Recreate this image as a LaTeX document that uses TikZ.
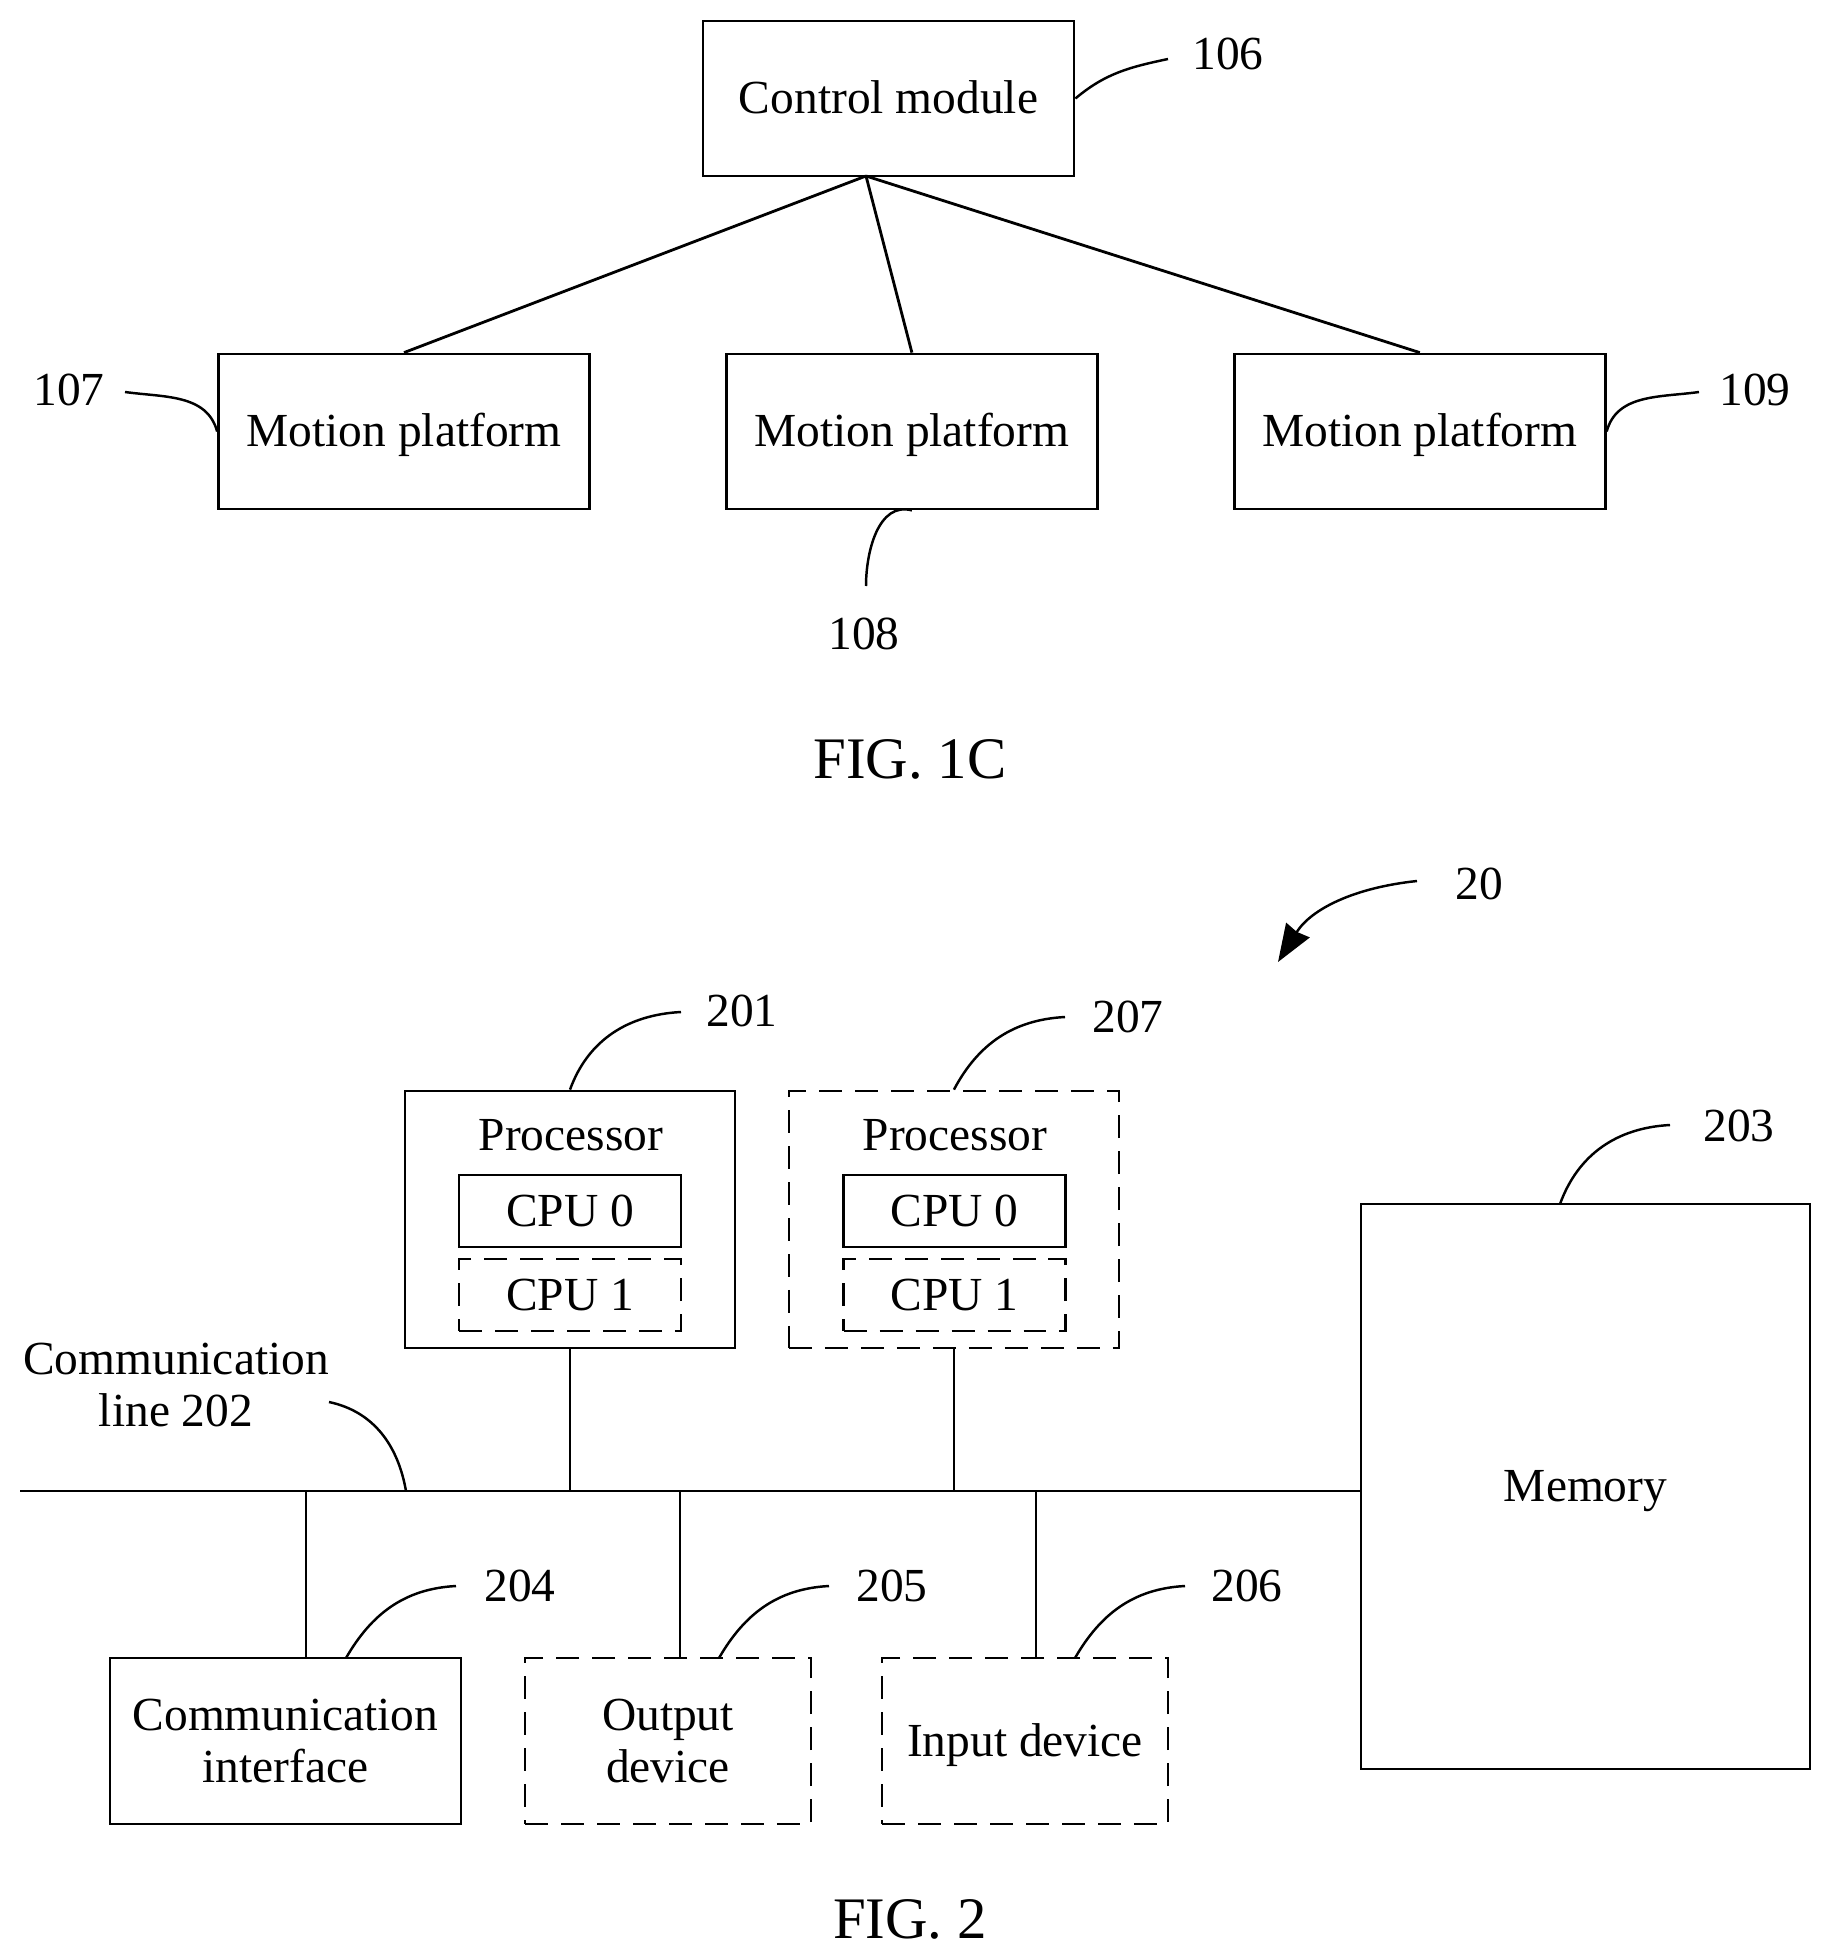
\documentclass[tikz,border=0pt]{standalone}
\usepackage{fontspec}
\setmainfont{Liberation Serif}
\usetikzlibrary{arrows.meta}

\begin{document}
\begin{tikzpicture}[x=0.02cm,y=-0.02cm,line width=1.6pt,node distance=10.16cm,
  every node/.style={font=\fontsize{27}{29.5}\selectfont,align=center},
  main box/.style={draw,inner sep=0pt,minimum width=#1},
  main box/.default=7.42cm,
  dash box/.style={main box=#1,dash pattern=on 0.46cm off 0.26cm},
  one line/.style={text height=17.4pt,text depth=0pt},
  label/.style={inner sep=0pt},
  lead/.style={line width=1.4pt}]
  \useasboundingbox (0,0) rectangle (1830,1959);

  % FIG. 1C
  \node[main box,one line,minimum height=3.1cm] (ctrl) at (888.5,98.5) {Control module};
  \node[main box,one line,minimum height=3.1cm] (m1) at (404,431.5) {Motion platform};
  \node[main box,one line,minimum height=3.1cm] (m2) [right of=m1] {Motion platform};
  \node[main box,one line,minimum height=3.1cm] (m3) [right of=m2] {Motion platform};
  \coordinate (apex) at (866,176);

  \draw (apex) -- (m1.north);
  \draw (apex) -- (m2.north);
  \draw (apex) -- (m3.north);

  \node[label] (l106) at (1228,54) {106};
  \node[label] (l107) at (69,390) {107};
  \node[label] (l108) at (864,634) {108};
  \node[label] (l109) at (1755,390) {109};
  \coordinate (e106) at (1168,59);
  \coordinate (e107) at (125,392);
  \coordinate (e108) at (866,586);
  \coordinate (e109) at (1699,392);
  \draw[lead] (ctrl.east) to[out=40,in=192] (e106);
  \draw[lead] (m1.west) to[out=105,in=-8] (e107);
  \draw[lead] (m2.south) to[out=165,in=90] (e108);
  \draw[lead] (m3.east) to[out=75,in=188] (e109);

  \node[font=\fontsize{33.5}{36}\selectfont] (fig1) at (910,759) {FIG. 1C};

  % FIG. 2
  \node[main box=6.6cm,minimum height=5.14cm] (p1) at (570,1219.5) {};
  \node[dash box=6.6cm,minimum height=5.14cm,node distance=7.68cm] (p2) [right of=p1] {};
  \node[one line] (t1) at (571,1135) {Processor};
  \node[one line] (t2) at (955,1135) {Processor};
  \node[main box=4.44cm,one line,minimum height=1.44cm] (c10) at (570,1211) {CPU 0};
  \node[dash box=4.44cm,one line,minimum height=1.44cm] (c11) at (570,1295) {CPU 1};
  \node[main box=4.44cm,one line,minimum height=1.44cm] (c20) at (954.5,1211) {CPU 0};
  \node[dash box=4.44cm,one line,minimum height=1.44cm] (c21) at (954.5,1295) {CPU 1};
  \node[main box=8.98cm,one line,minimum height=11.3cm] (mem) at (1585.5,1486.5) {Memory};
  \node[main box=7.02cm,minimum height=3.32cm] (com) at (285.5,1741) {Communication\\interface};
  \node[dash box=5.72cm,minimum height=3.32cm] (out) at (668,1741) {Output\\device};
  \node[dash box=5.72cm,one line,minimum height=3.32cm] (inp) at (1025,1741) {Input device};

  \coordinate (bus) at (20,1491);
  \coordinate (j204) at (306,1491);
  \coordinate (j205) at (680,1491);
  \coordinate (j206) at (1036,1491);
  \draw (bus) -- (bus -| mem.west);
  \draw (p1.south) -- (p1.south |- bus);
  \draw (p2.south) -- (p2.south |- bus);
  \draw (j204) -- (j204 |- com.north);
  \draw (j205) -- (j205 |- out.north);
  \draw (j206) -- (j206 |- inp.north);

  \node[label] (l20) at (1479,884) {20};
  \node[label] (l201) at (742,1011) {201};
  \node[label] (l207) at (1128,1017) {207};
  \node[label] (l203) at (1739,1126) {203};
  \node[label] (l204) at (520,1586) {204};
  \node[label] (l205) at (892,1586) {205};
  \node[label] (l206) at (1247,1586) {206};
  \node[label] (l202) at (176,1385) {Communication\\line 202};

  \coordinate (s20) at (1417,881);
  \coordinate (e20) at (1278,962);
  \coordinate (e201) at (681,1012);
  \coordinate (e207) at (1065,1017);
  \coordinate (s203) at (1560,1204);
  \coordinate (e203) at (1670,1125);
  \coordinate (s204) at (346,1658);
  \coordinate (e204) at (456,1586);
  \coordinate (s205) at (719,1658);
  \coordinate (e205) at (829,1586);
  \coordinate (s206) at (1075,1658);
  \coordinate (e206) at (1185,1586);
  \coordinate (s202) at (406,1491);
  \coordinate (e202) at (329,1402);
  \draw[lead,-{Stealth[length=0.75cm,width=0.55cm,inset=0.04cm]}] (s20) to[out=186,in=58] (e20);
  \draw[lead] (p1.north) to[out=70,in=183] (e201);
  \draw[lead] (p2.north) to[out=62,in=183] (e207);
  \draw[lead] (s203) to[out=70,in=183] (e203);
  \draw[lead] (s204) to[out=60,in=183] (e204);
  \draw[lead] (s205) to[out=60,in=183] (e205);
  \draw[lead] (s206) to[out=60,in=183] (e206);
  \draw[lead] (s202) to[out=100,in=-12] (e202);

  \node[font=\fontsize{33.5}{36}\selectfont] (fig2) at (910,1919) {FIG. 2};
\end{tikzpicture}
\end{document}
